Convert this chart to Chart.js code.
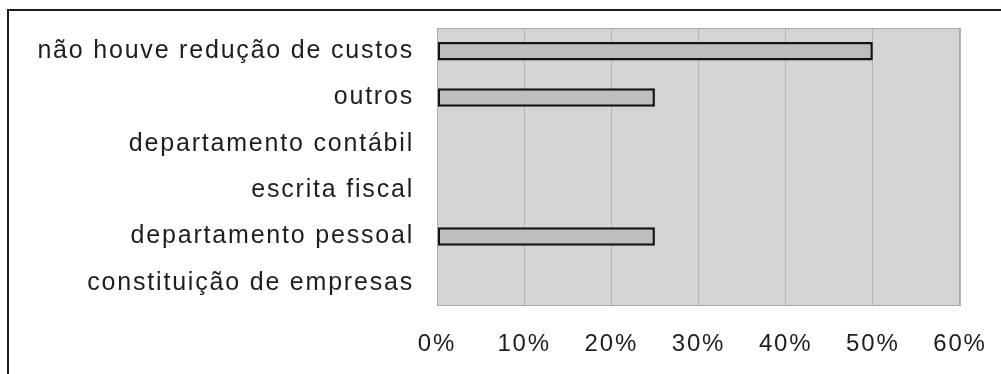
<!DOCTYPE html>
<html>
<head>
<meta charset="utf-8">
<script src="https://cdn.jsdelivr.net/npm/chart.js@4/dist/chart.umd.min.js"></script>
<style>
    body { margin: 0; background: #fff; }
    #wrap { position: relative; width: 1001px; height: 374px; }
    #frame {
        position: absolute; left: 7px; top: 9px; right: -5px; bottom: -5px;
        border-left: 2px solid #1c1c1c; border-top: 2px solid #1c1c1c;
        pointer-events: none;
    }
</style>
</head>
<body>
<div id="wrap">
    <canvas id="myBarChart" width="1001" height="374"></canvas>
    <div id="frame"></div>
</div>
<script>
const categories = [
    'não houve redução de custos',
    'outros',
    'departamento contábil',
    'escrita fiscal',
    'departamento pessoal',
    'constituição de empresas'
];
const percentValues = [50, 25, 0, 0, 25, 0];
const tickValues = [0, 10, 20, 30, 40, 50, 60];

// plot background, border and letter spacing of the old typeface
const plotArea = {
    id: 'plotArea',
    beforeDraw(chart) {
        const { ctx, chartArea: a } = chart;
        ctx.letterSpacing = '1.8px';
        ctx.save();
        ctx.fillStyle = '#d5d5d5';
        ctx.fillRect(a.left, a.top, a.right - a.left, a.bottom - a.top);
        ctx.restore();
    },
    afterDraw(chart) {
        const { ctx, chartArea: a } = chart;
        ctx.save();
        ctx.strokeStyle = '#a8a8a8';
        ctx.lineWidth = 1;
        ctx.strokeRect(a.left + 0.5, a.top + 0.5, a.right - a.left - 1, a.bottom - a.top - 1);
        ctx.restore();
    }
};

const config = {
    type: 'bar',
    data: {
        labels: categories,
        datasets: [{
            data: percentValues,
            backgroundColor: '#bebebe',
            borderColor: '#141414',
            borderWidth: ctx => ctx.raw === 0 ? 0 : 2.5,
            borderSkipped: false,
            barPercentage: 0.4,
            categoryPercentage: 1
        }]
    },
    options: {
        indexAxis: 'y',
        responsive: false,
        animation: false,
        layout: { padding: { top: 28, right: 41, left: 0, bottom: 0 } },
        plugins: {
            legend: { display: false },
            tooltip: { enabled: false }
        },
        scales: {
            x: {
                min: 0,
                max: 60,
                afterBuildTicks: axis => { axis.ticks = tickValues.map(v => ({ value: v })); },
                afterFit: axis => {
                    axis.height = 68;
                    axis.paddingLeft = 0;
                    axis.paddingRight = 0;
                },
                grid: { color: '#b4b4b4', lineWidth: 1, drawTicks: false },
                border: { display: false },
                ticks: {
                    padding: 24,
                    color: '#1e1e1e',
                    font: { family: 'Liberation Sans, Arial, sans-serif', size: 24 },
                    callback: v => v + '%'
                }
            },
            y: {
                afterFit: axis => {
                    axis.width = 437;
                    axis.paddingTop = 0;
                    axis.paddingBottom = 0;
                },
                grid: { display: false, drawTicks: false },
                border: { display: false },
                ticks: {
                    padding: 23,
                    color: '#1e1e1e',
                    font: { family: 'Liberation Sans, Arial, sans-serif', size: 25 }
                }
            }
        }
    },
    plugins: [plotArea]
};

new Chart(document.querySelector('#myBarChart'), config);
</script>
</body>
</html>
